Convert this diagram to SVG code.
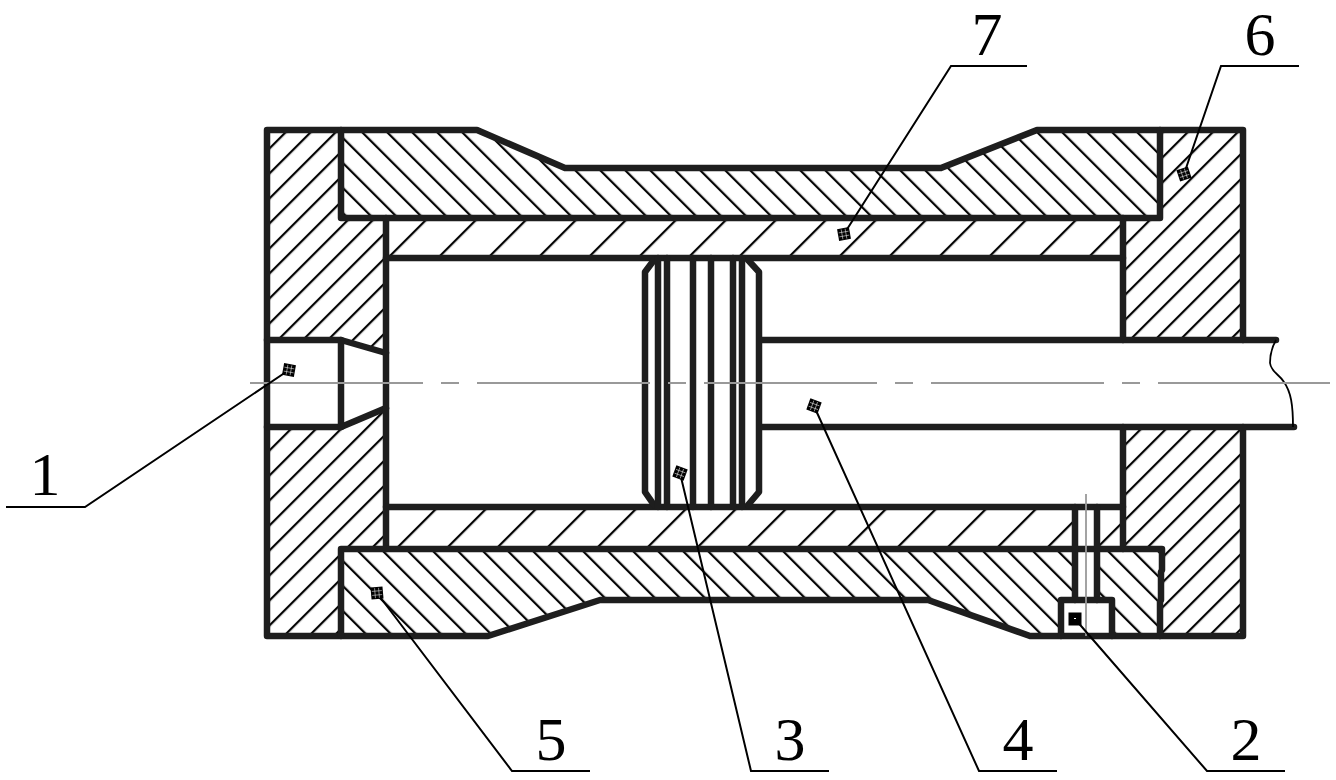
<svg xmlns="http://www.w3.org/2000/svg" width="1336" height="780" viewBox="0 0 1336 780">
<style>
.o{fill:none;stroke:#1e1e1e;stroke-width:6.5;stroke-linejoin:round;stroke-linecap:round}
.l{fill:none;stroke:#000;stroke-width:2;stroke-linejoin:miter}
.c{fill:none;stroke:#999;stroke-width:1.8}
.b{fill:none;stroke:#000;stroke-width:1.8}
.t{font-family:"Liberation Serif","Times New Roman",serif;font-size:62px;fill:#000;text-anchor:middle}
</style>
<defs>
<pattern id="a1" patternUnits="userSpaceOnUse" width="17.678" height="17.678" patternTransform="translate(16.44 0) rotate(45)"><rect width="2.2" height="17.678"/></pattern>
<pattern id="a2" patternUnits="userSpaceOnUse" width="17.678" height="17.678" patternTransform="translate(18.44 0) rotate(45)"><rect width="2.2" height="17.678"/></pattern>
<pattern id="b1" patternUnits="userSpaceOnUse" width="17.678" height="17.678" patternTransform="translate(3.44 0) rotate(-45)"><rect width="2.2" height="17.678"/></pattern>
<pattern id="b2" patternUnits="userSpaceOnUse" width="17.678" height="17.678" patternTransform="translate(5.44 0) rotate(-45)"><rect width="2.2" height="17.678"/></pattern>
<pattern id="c1" patternUnits="userSpaceOnUse" width="35.355" height="35.355" patternTransform="translate(44.44 0) rotate(45)"><rect width="2.2" height="35.355"/></pattern>
<pattern id="c2" patternUnits="userSpaceOnUse" width="35.355" height="35.355" patternTransform="translate(43.44 0) rotate(45)"><rect width="2.2" height="35.355"/></pattern>
<g id="m"><rect x="-6" y="-6" width="12" height="12" fill="#000"/><path d="M-2 -5V5M2 -5V5M-5 -2H5M-5 2H5" stroke="#fff" stroke-width=".5" fill="none"/></g>
<g id="n"><rect x="-6.5" y="-6.5" width="13" height="13" fill="#000"/><rect x="-1" y="-1" width="2" height="1" fill="#fff"/></g>
</defs>
<rect width="1336" height="780" fill="#fff"/>
<g id="hatching">
<path fill="url(#a1)" d="M267 130H341V218H386V354L341 340H267Z"/>
<path fill="url(#a2)" d="M267 427H341L386 408V549H341V636H267Z"/>
<path fill="url(#a2)" d="M1160 130H1243V340H1123V218H1160Z"/>
<path fill="url(#a2)" d="M1123 427H1243V636H1161V549H1123Z"/>
<path fill="url(#b1)" d="M341 130H477L565 168H941L1037 130H1160V218H341Z"/>
<path fill="url(#b2)" d="M341 549H1162V636H1030L928 600H600L488 636H341Z"/>
<rect fill="url(#c1)" x="386" y="218" width="737" height="40"/>
<rect fill="url(#c2)" x="386" y="507" width="737" height="42"/>
<rect fill="#fff" x="1075" y="507" width="22" height="93"/>
<rect fill="#fff" x="1061" y="600" width="51" height="36"/>
</g>
<g id="body" class="o">
<path d="M1243 340V130H1037L941 168H565L477 130H267V636H488L600 600H928L1030 636H1243V427"/>
<path d="M267 340H341L386 353M267 427H341L386 408"/>
<path d="M341 130V218H1160V130"/>
<path d="M341 340V427"/>
<path d="M386 218V549"/>
<path d="M1123 218V340M1123 427V549"/>
<path d="M386 258H1123M386 507H1123"/>
<path d="M341 636V549H1162V570L1161 572V600L1160 602V636"/>
<path d="M1075 507V600M1097 507V600"/>
<path d="M1061 636V600H1112V636"/>
</g>
<g id="piston" class="o">
<path d="M654 260L645 272V492L654 505"/>
<path d="M748 260L759 272V492L748 505"/>
<path d="M658 258V507M667 258V507M693 258V507M711 258V507M733 258V507M742 258V507"/>
</g>
<g id="rod">
<path class="o" d="M761 340H1276M761 427H1294"/>
<path class="b" d="M1276 340C1272 347 1270 355 1270 363C1271 372 1279 374 1284 382C1291 392 1293 405 1293 427"/>
</g>
<g id="centerlines">
<path class="c" d="M250 383H1330" stroke-dasharray="173 18 18 18"/>
<path class="c" d="M1086 494V636"/>
</g>
<g id="connectors">
<path class="l" d="M289 370L85 507H6"/>
<path class="l" d="M844 234L951 66H1027"/>
<path class="l" d="M1184 174L1221 66H1299"/>
<path class="l" d="M377 593L512 771H590"/>
<path class="l" d="M680 473L751 771H829"/>
<path class="l" d="M814 406L979 771H1057"/>
<path class="l" d="M1075 619L1207 771H1285"/>
</g>
<g id="markers">
<use href="#m" transform="translate(289 370) rotate(10)"/>
<use href="#m" transform="translate(844 234) rotate(-10)"/>
<use href="#m" transform="translate(1184 174) rotate(-18)"/>
<use href="#m" transform="translate(377 593) rotate(-5)"/>
<use href="#m" transform="translate(680 473) rotate(20)"/>
<use href="#m" transform="translate(814 406) rotate(20)"/>
<use href="#n" transform="translate(1075 619)"/>
</g>
<g id="labels">
<text class="t" x="45" y="495">1</text>
<text class="t" x="1246" y="760">2</text>
<text class="t" x="790" y="760">3</text>
<text class="t" x="1018" y="760">4</text>
<text class="t" x="551" y="760">5</text>
<text class="t" x="1260" y="55">6</text>
<text class="t" x="987" y="55">7</text>
</g>
</svg>
